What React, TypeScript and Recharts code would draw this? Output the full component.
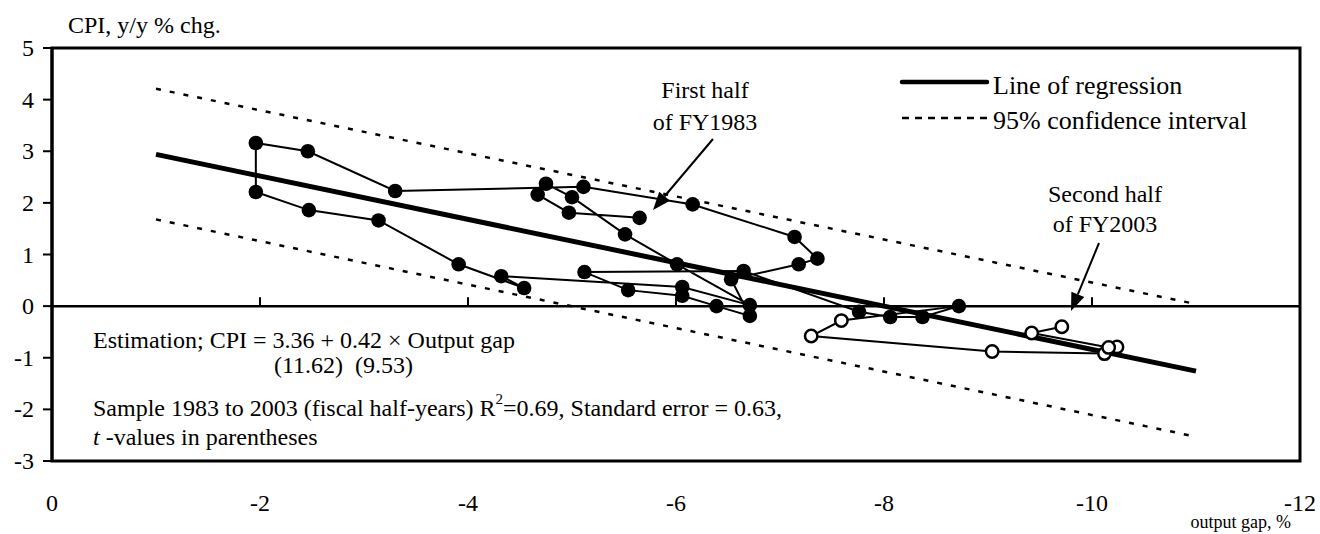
import React from 'react';
import {
  ScatterChart,
  Scatter,
  XAxis,
  YAxis,
  ReferenceLine,
  ReferenceArea,
} from 'recharts';

// output gap (%) and CPI (y/y % chg.), fiscal half-years from 1H FY1983
const gapFilled = [
  -5.65, -4.97, -4.67, -4.75, -5.0, -5.51, -6.01, -6.71, -6.06, -4.32, -4.54, -3.91,
  -3.14, -2.47, -1.96, -1.96, -2.46, -3.3, -5.11, -6.16, -7.14, -7.36, -7.18, -6.53,
  -6.71, -6.39, -6.06, -5.54, -5.12, -6.65, -7.76, -8.06, -8.37, -8.72,
];
const cpiFilled = [
  1.71, 1.81, 2.16, 2.37, 2.11, 1.39, 0.81, 0.02, 0.37, 0.58, 0.35, 0.81,
  1.66, 1.86, 2.21, 3.16, 3.0, 2.23, 2.31, 1.97, 1.34, 0.92, 0.81, 0.52,
  -0.19, 0.0, 0.2, 0.31, 0.66, 0.68, -0.11, -0.21, -0.21, 0.0,
];
// later half-years up to 2H FY2003 (open circles)
const gapOpen = [-7.59, -7.3, -9.04, -10.12, -10.24, -10.16, -9.42, -9.71];
const cpiOpen = [-0.28, -0.58, -0.88, -0.92, -0.79, -0.8, -0.52, -0.4];

const lineGap = [-1, -11];
const regCpi = [2.94, -1.26];
const upperCpi = [4.21, 0.04];
const lowerCpi = [1.68, -2.53];

const xTicks = [0, -2, -4, -6, -8, -10, -12];
const yTicks = [-3, -2, -1, 0, 1, 2, 3, 4, 5];
const zeroTicks = [-2, -4, -6, -8, -10];

const FONT = '"Liberation Serif", "Times New Roman", serif';

const toPoints = (xs: number[], ys: number[]) => xs.map((x, i) => ({ x, y: ys[i] }));

const filled = toPoints(gapFilled, cpiFilled);
const open = toPoints(gapOpen, cpiOpen);
const path = [...filled, ...open];

const NoShape = () => <g />;

const FilledDot = (props: any) => <circle cx={props.cx} cy={props.cy} r={7.3} fill="#000" />;
const OpenDot = (props: any) => (
  <circle cx={props.cx} cy={props.cy} r={6.2} fill="#fff" stroke="#000" strokeWidth={2.5} />
);

const XTick = (props: any) => (
  <text x={props.x} y={props.y + 42} textAnchor="middle" dominantBaseline="central" fontFamily={FONT} fontSize={24} fill="#000">
    {props.payload.value}
  </text>
);

const YTick = (props: any) => (
  <text x={props.x} y={props.y} textAnchor="end" dominantBaseline="central" fontFamily={FONT} fontSize={24} fill="#000">
    {props.payload.value}
  </text>
);

function Arrow({ x1, y1, x2, y2 }: { x1: number; y1: number; y2: number; x2: number }) {
  const a = Math.atan2(y2 - y1, x2 - x1);
  const len = 18;
  const w = 7;
  const bx = x2 - len * Math.cos(a);
  const by = y2 - len * Math.sin(a);
  const px = -Math.sin(a) * w;
  const py = Math.cos(a) * w;
  return (
    <g>
      <line x1={x1} y1={y1} x2={bx} y2={by} stroke="#000" strokeWidth={2} />
      <polygon points={`${x2},${y2} ${bx + px},${by + py} ${bx - px},${by - py}`} fill="#000" />
    </g>
  );
}

export default function App() {
  return (
    <div style={{ position: 'absolute', left: 0, top: 0, width: 1320, height: 534, background: '#fff' }}>
      <ScatterChart width={1320} height={534} margin={{ top: 48, right: 20, left: 0, bottom: 0 }}>
        <XAxis
          type="number"
          dataKey="x"
          domain={[-12, 0]}
          ticks={xTicks}
          reversed
          axisLine={false}
          tickLine={false}
          tickSize={0}
          tickMargin={0}
          height={73}
          tick={<XTick />}
          allowDataOverflow
        />
        <YAxis
          type="number"
          dataKey="y"
          domain={[-3, 5]}
          ticks={yTicks}
          width={52}
          axisLine={{ stroke: '#000', strokeWidth: 3 }}
          tickLine={{ stroke: '#000', strokeWidth: 2 }}
          tickSize={9}
          tickMargin={9}
          tick={<YTick />}
          allowDataOverflow
        />
        <ReferenceArea x1={-12} x2={0} y1={-3} y2={5} fill="none" stroke="#000" strokeWidth={3} />
        <ReferenceLine y={0} stroke="#000" strokeWidth={2.5} />
        {zeroTicks.map((t) => (
          <ReferenceLine
            key={t}
            segment={[
              { x: t, y: 0 },
              { x: t, y: 0.17 },
            ]}
            stroke="#000"
            strokeWidth={2}
          />
        ))}
        <Scatter
          data={toPoints(lineGap, upperCpi)}
          line={{ stroke: '#000', strokeWidth: 2.5, strokeDasharray: '5 9' }}
          shape={<NoShape />}
          isAnimationActive={false}
        />
        <Scatter
          data={toPoints(lineGap, lowerCpi)}
          line={{ stroke: '#000', strokeWidth: 2.5, strokeDasharray: '5 9' }}
          shape={<NoShape />}
          isAnimationActive={false}
        />
        <Scatter
          data={path}
          line={{ stroke: '#000', strokeWidth: 2 }}
          shape={<NoShape />}
          isAnimationActive={false}
        />
        <Scatter
          data={toPoints(lineGap, regCpi)}
          line={{ stroke: '#000', strokeWidth: 5 }}
          shape={<NoShape />}
          isAnimationActive={false}
        />
        <Scatter data={filled} shape={<FilledDot />} isAnimationActive={false} />
        <Scatter data={open} shape={<OpenDot />} isAnimationActive={false} />
      </ScatterChart>

      <svg
        width={1320}
        height={534}
        style={{ position: 'absolute', left: 0, top: 0, pointerEvents: 'none' }}
        fontFamily={FONT}
        fill="#000"
      >
        <text x={68} y={25} fontSize={24} dominantBaseline="central">CPI, y/y % chg.</text>

        {/* legend */}
        <line x1={902} y1={82} x2={987} y2={82} stroke="#000" strokeWidth={4.5} strokeLinecap="round" />
        <text x={993} y={85} fontSize={26} dominantBaseline="central">Line of regression</text>
        <line x1={902} y1={118} x2={987} y2={118} stroke="#000" strokeWidth={2.5} strokeDasharray="7 6" />
        <text x={993} y={120} fontSize={26} dominantBaseline="central">95% confidence interval</text>

        {/* annotations */}
        <text x={705} y={90} fontSize={24} textAnchor="middle" dominantBaseline="central">First half</text>
        <text x={705} y={122} fontSize={24} textAnchor="middle" dominantBaseline="central">of FY1983</text>
        <Arrow x1={713} y1={139} x2={653} y2={210} />
        <text x={1105} y={194} fontSize={24} textAnchor="middle" dominantBaseline="central">Second half</text>
        <text x={1105} y={224} fontSize={24} textAnchor="middle" dominantBaseline="central">of FY2003</text>
        <Arrow x1={1099} y1={243} x2={1071} y2={311} />

        {/* estimation */}
        <text x={93} y={340} fontSize={24} dominantBaseline="central">
          Estimation; CPI = 3.36 + 0.42 × Output gap
        </text>
        <text x={274} y={365} fontSize={24} dominantBaseline="central">
          {'(11.62)\u00a0\u00a0(9.53)'}
        </text>
        <text x={93} y={408} fontSize={24} dominantBaseline="central">
          Sample 1983 to 2003 (fiscal half-years) R
          <tspan dy={-9} fontSize={15}>2</tspan>
          <tspan dy={9}>=0.69, Standard error = 0.63,</tspan>
        </text>
        <text x={93} y={437} fontSize={24} dominantBaseline="central">
          <tspan fontStyle="italic">t</tspan> -values in parentheses
        </text>

        <text x={1291} y={522} fontSize={18} textAnchor="end" dominantBaseline="central">output gap, %</text>
      </svg>
    </div>
  );
}
